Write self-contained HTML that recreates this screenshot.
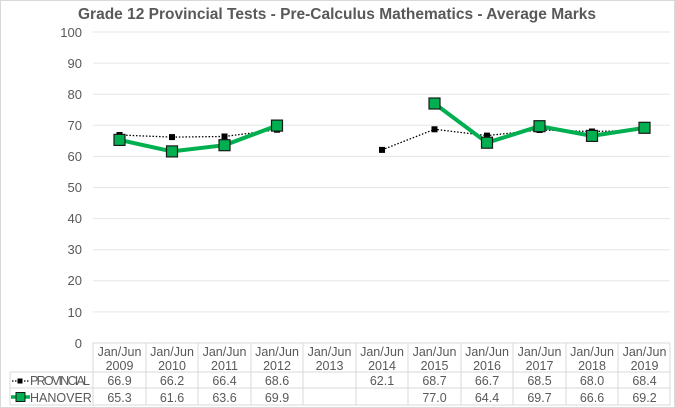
<!DOCTYPE html>
<html><head><meta charset="utf-8"><style>
body{margin:0;background:#fff;}
svg{display:block;font-family:"Liberation Sans",sans-serif;}
</style></head><body>
<svg width="675" height="408" viewBox="0 0 675 408">
<rect x="0.5" y="0.5" width="674" height="407" fill="#fff" stroke="#d9d9d9"/>
<text x="337" y="19" text-anchor="middle" font-size="15.5" font-weight="bold" fill="#595959">Grade 12 Provincial Tests - Pre-Calculus Mathematics - Average Marks</text>
<g stroke="#e6e6e6" stroke-width="1">
<line x1="93" x2="670" y1="32" y2="32"/><line x1="93" x2="670" y1="63.1" y2="63.1"/>
<line x1="93" x2="670" y1="94.2" y2="94.2"/><line x1="93" x2="670" y1="125.3" y2="125.3"/>
<line x1="93" x2="670" y1="156.4" y2="156.4"/><line x1="93" x2="670" y1="187.5" y2="187.5"/>
<line x1="93" x2="670" y1="218.6" y2="218.6"/><line x1="93" x2="670" y1="249.7" y2="249.7"/>
<line x1="93" x2="670" y1="280.8" y2="280.8"/><line x1="93" x2="670" y1="311.9" y2="311.9"/>
</g>
<g font-size="13" fill="#595959" text-anchor="end">
<text x="82" y="37">100</text><text x="82" y="68">90</text><text x="82" y="99">80</text><text x="82" y="130">70</text>
<text x="82" y="161">60</text><text x="82" y="192">50</text><text x="82" y="223">40</text><text x="82" y="254">30</text>
<text x="82" y="285">20</text><text x="82" y="317">10</text><text x="82" y="348">0</text>
</g>
<g stroke="#d9d9d9" stroke-width="1">
<line x1="93" x2="670" y1="343" y2="343"/>
<line x1="10" x2="670" y1="372" y2="372"/>
<line x1="10" x2="670" y1="388" y2="388"/>
<line x1="10" x2="670" y1="405" y2="405"/>
<line x1="10" x2="10" y1="372" y2="405"/>
<line x1="93" x2="93" y1="343" y2="405"/><line x1="146" x2="146" y1="343" y2="405"/>
<line x1="198" x2="198" y1="343" y2="405"/><line x1="251" x2="251" y1="343" y2="405"/>
<line x1="303" x2="303" y1="343" y2="405"/><line x1="356" x2="356" y1="343" y2="405"/>
<line x1="408" x2="408" y1="343" y2="405"/><line x1="461" x2="461" y1="343" y2="405"/>
<line x1="513" x2="513" y1="343" y2="405"/><line x1="566" x2="566" y1="343" y2="405"/>
<line x1="618" x2="618" y1="343" y2="405"/><line x1="670" x2="670" y1="343" y2="405"/>
</g>
<g font-size="12.5" fill="#595959" text-anchor="middle">
<text x="119.5" y="356">Jan/Jun</text><text x="119.5" y="370">2009</text>
<text x="172" y="356">Jan/Jun</text><text x="172" y="370">2010</text>
<text x="224.5" y="356">Jan/Jun</text><text x="224.5" y="370">2011</text>
<text x="277" y="356">Jan/Jun</text><text x="277" y="370">2012</text>
<text x="329.5" y="356">Jan/Jun</text><text x="329.5" y="370">2013</text>
<text x="382" y="356">Jan/Jun</text><text x="382" y="370">2014</text>
<text x="434.5" y="356">Jan/Jun</text><text x="434.5" y="370">2015</text>
<text x="487" y="356">Jan/Jun</text><text x="487" y="370">2016</text>
<text x="539.5" y="356">Jan/Jun</text><text x="539.5" y="370">2017</text>
<text x="592" y="356">Jan/Jun</text><text x="592" y="370">2018</text>
<text x="644.5" y="356">Jan/Jun</text><text x="644.5" y="370">2019</text>
<text x="119.5" y="385">66.9</text><text x="172" y="385">66.2</text><text x="224.5" y="385">66.4</text><text x="277" y="385">68.6</text>
<text x="382" y="385">62.1</text><text x="434.5" y="385">68.7</text><text x="487" y="385">66.7</text><text x="539.5" y="385">68.5</text><text x="592" y="385">68.0</text><text x="644.5" y="385">68.4</text>
<text x="119.5" y="402">65.3</text><text x="172" y="402">61.6</text><text x="224.5" y="402">63.6</text><text x="277" y="402">69.9</text>
<text x="434.5" y="402">77.0</text><text x="487" y="402">64.4</text><text x="539.5" y="402">69.7</text><text x="592" y="402">66.6</text><text x="644.5" y="402">69.2</text>
</g>
<g font-size="12.5" fill="#595959">
<text x="30" y="385" textLength="60">PROVINCIAL</text><text x="30" y="402">HANOVER</text>
</g>
<line x1="12" x2="29" y1="381" y2="381" stroke="#000" stroke-dasharray="1.5,1.5" stroke-width="1.3"/>
<rect x="17.5" y="378.5" width="5" height="5" fill="#000"/>
<line x1="11" x2="30" y1="397" y2="397" stroke="#00b050" stroke-width="3.5"/>
<rect x="16" y="392.5" width="9" height="9" fill="#00b050" stroke="#1a1a1a" stroke-width="1"/>
<g stroke="#000" stroke-width="1.3" stroke-dasharray="1.5,1.8" fill="none">
<polyline points="119.5,135 172,137.1 224.5,136.5 277,129.7"/>
<polyline points="382,149.9 434.5,129.3 487,135.6 539.5,130 592,131.5 644.5,130.3"/>
</g>
<g fill="#000">
<rect x="116.5" y="132" width="6" height="6"/><rect x="169" y="134.1" width="6" height="6"/>
<rect x="221.5" y="133.5" width="6" height="6"/><rect x="274" y="126.7" width="6" height="6"/>
<rect x="379" y="146.9" width="6" height="6"/><rect x="431.5" y="126.3" width="6" height="6"/>
<rect x="484" y="132.6" width="6" height="6"/><rect x="536.5" y="127" width="6" height="6"/>
<rect x="589" y="128.5" width="6" height="6"/><rect x="641.5" y="127.3" width="6" height="6"/>
</g>
<g stroke="#00b050" stroke-width="4" fill="none" stroke-linejoin="round">
<polyline points="119.5,139.9 172,151.4 224.5,145.2 277,125.6"/>
<polyline points="434.5,103.5 487,142.7 539.5,126.2 592,135.9 644.5,127.8"/>
</g>
<g fill="#00b050" stroke="#1a1a1a" stroke-width="1.2">
<rect x="114" y="134.4" width="11" height="11"/><rect x="166.5" y="145.9" width="11" height="11"/>
<rect x="219" y="139.7" width="11" height="11"/><rect x="271.5" y="120.1" width="11" height="11"/>
<rect x="429" y="98" width="11" height="11"/><rect x="481.5" y="137.2" width="11" height="11"/>
<rect x="534" y="120.7" width="11" height="11"/><rect x="586.5" y="130.4" width="11" height="11"/>
<rect x="639" y="122.3" width="11" height="11"/>
</g>
</svg>
</body></html>
